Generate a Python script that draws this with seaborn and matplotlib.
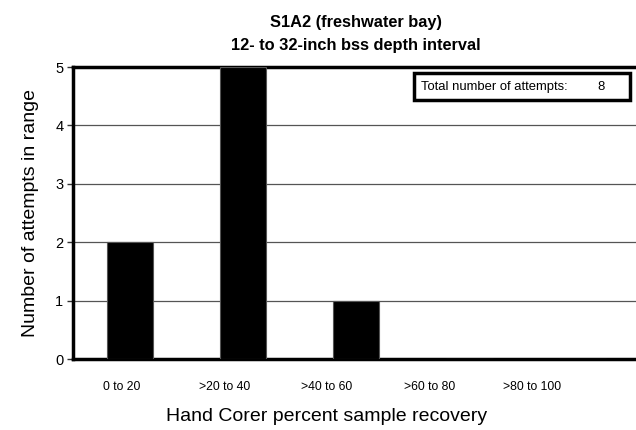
import numpy as np
import pandas as pd
import matplotlib.pyplot as plt
from matplotlib.patches import Rectangle
import seaborn as sns

categories = ["0 to 20", ">20 to 40", ">40 to 60", ">60 to 80", ">80 to 100"]
attempts = [2, 5, 1, 0, 0]
total_attempts = 8

df = pd.DataFrame({"range": categories, "count": attempts})

sns.set_style("white")
plt.rcParams["font.family"] = ["Liberation Sans", "DejaVu Sans"]

fig = plt.figure(figsize=(6.36, 4.3), dpi=100)
ax = fig.add_axes([0.115, 0.165, 0.89, 0.679])

sns.barplot(data=df, x="range", y="count", color="black", width=0.41,
            edgecolor="#555555", linewidth=0.8, ax=ax, zorder=3)

ax.set_ylim(0, 5)
ax.set_xlim(-0.5, 4.5)
ax.set_yticks(range(6))
for y in range(1, 5):
    ax.axhline(y, color="#555555", linewidth=0.9, zorder=1)

# tick marks on the category boundaries; labels sit a bit left like the original
ax.set_xticks(np.arange(-0.5, 5.0, 1.0), minor=True)
ax.set_xticks(np.arange(len(categories)) * 0.905 - 0.07)
ax.set_xticklabels(categories)
ax.tick_params(axis="x", which="minor", direction="inout", length=7, width=1, color="#333333")
ax.tick_params(axis="x", which="major", length=0, labelsize=8.8, pad=16, labelcolor="black")
ax.tick_params(axis="y", direction="out", length=4, width=1, labelsize=10.5, pad=3,
               left=True, labelcolor="black", color="#333333")

for side in ["left", "bottom", "top"]:
    ax.spines[side].set_linewidth(2.5)
    ax.spines[side].set_color("black")
ax.spines["right"].set_visible(False)

ax.set_xlabel("Hand Corer percent sample recovery", fontsize=14, color="black")
ax.xaxis.set_label_coords(0.448, -0.168)
ax.set_ylabel("Number of attempts in range", fontsize=14, color="black", labelpad=12)
ax.set_title("S1A2 (freshwater bay)\n12- to 32-inch bss depth interval",
             fontsize=11.8, fontweight="bold", pad=12, linespacing=1.7, color="black")

box = Rectangle((0.602, 0.887), 0.382, 0.092, transform=ax.transAxes,
                facecolor="white", edgecolor="black", linewidth=2.5, zorder=5)
ax.add_patch(box)
ax.text(0.615, 0.933, "Total number of attempts:", transform=ax.transAxes,
        fontsize=9.4, va="center", ha="left", color="black", zorder=6)
ax.text(0.94, 0.933, str(total_attempts), transform=ax.transAxes,
        fontsize=9.4, va="center", ha="right", color="black", zorder=6)

plt.savefig("out.png", dpi=100)
